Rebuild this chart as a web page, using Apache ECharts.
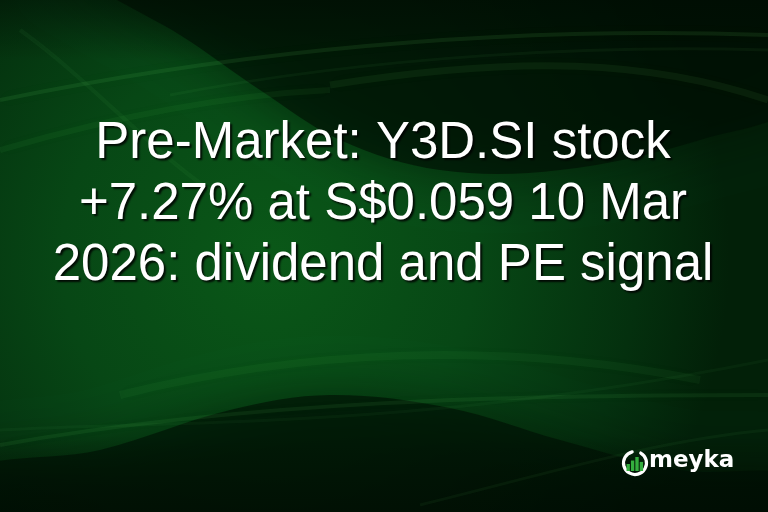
<!DOCTYPE html>
<html><head><meta charset="utf-8">
<script src="https://cdn.jsdelivr.net/npm/echarts@6/dist/echarts.min.js"></script>
<style>html,body{margin:0;padding:0;background:#031a08}#c{width:768px;height:512px}</style>
</head><body><div id="c"></div>
<script>
const titleLines = ["Pre-Market: Y3D.SI stock", "+7.27% at S$0.059 10 Mar", "2026: dividend and PE signal"];
const brandName = "meyka";
const logoBars = [0.5, 0.75, 1.0, 0.65];

const chart = echarts.init(document.getElementById('c'));
const W = 768, H = 512;
const g = [];
// base background
g.push({type:'rect', shape:{x:0,y:0,width:W,height:H}, style:{fill:{type:'radial',x:0.35,y:0.5,r:0.9,colorStops:[
  {offset:0,color:'#0a5818'},{offset:0.45,color:'#074715'},{offset:0.8,color:'#04300e'},{offset:1,color:'#022008'}]}}, z:0});
// dark top lobe
g.push({type:'polygon', shape:{smooth:0.35, points:[[60,-40],[808,-40],[808,95],[700,140],[560,170],[440,170],[340,140],[260,90],[180,35],[100,-10]]},
  style:{fill:'rgba(0,14,4,0.62)', shadowBlur:50, shadowColor:'rgba(0,14,4,0.8)'}, z:1});
// dark bottom lobe
g.push({type:'polygon', shape:{smooth:0.35, points:[[-40,552],[-40,475],[100,450],[230,410],[330,395],[450,408],[560,440],[680,470],[808,480],[808,552]]},
  style:{fill:'rgba(0,14,4,0.62)', shadowBlur:50, shadowColor:'rgba(0,14,4,0.8)'}, z:1});
// top/bottom edge darkening
g.push({type:'rect', shape:{x:0,y:0,width:W,height:H}, style:{fill:{type:'linear',x:0,y:0,x2:0,y2:1,colorStops:[
  {offset:0,color:'rgba(0,10,2,0.45)'},{offset:0.12,color:'rgba(0,10,2,0)'},{offset:0.85,color:'rgba(0,10,2,0)'},{offset:1,color:'rgba(0,10,2,0.5)'}]}}, z:1});
// light streaks
const sw = [
  [[0,100],[220,55],[480,25],[768,35], 0.10, 4],
  [[170,95],[380,55],[600,45],[768,50], 0.05, 3],
  [[330,85],[520,55],[650,60],[768,100], 0.07, 7],
  [[20,30],[90,80],[150,150],[210,190], 0.05, 4],
  [[0,150],[120,115],[230,95],[330,90], 0.06, 6],
  [[0,445],[250,400],[520,395],[768,395], 0.08, 4],
  [[0,430],[180,420],[420,430],[768,360], 0.045, 3],
  [[120,395],[300,350],[500,340],[700,380], 0.05, 8],
  [[420,505],[560,470],[660,440],[768,430], 0.05, 3]
];
sw.forEach(s=>{
  g.push({type:'bezierCurve', shape:{x1:s[0][0],y1:s[0][1],cpx1:s[1][0],cpy1:s[1][1],cpx2:s[2][0],cpy2:s[2][1],x2:s[3][0],y2:s[3][1]},
    style:{stroke:'rgba(110,230,110,'+s[4]+')', lineWidth:s[5], fill:null, shadowBlur:14, shadowColor:'rgba(100,220,100,0.3)'}, z:2});
});
// title
titleLines.forEach((t,i)=>{
  g.push({type:'text', x:383, y:144+i*61, style:{text:t, fill:'#ffffff', font:'51px "Liberation Sans", Arial, sans-serif', align:'center', verticalAlign:'middle',
    textShadowColor:'rgba(0,0,0,0.85)', textShadowOffsetX:2, textShadowOffsetY:2, textShadowBlur:2}, z:10});
});
// logo
const cx=635, cy=463, r=11.5;
g.push({type:'arc', shape:{cx:cx,cy:cy,r:r,startAngle:-Math.PI/3,endAngle:Math.PI*1.5-0.25,clockwise:true}, style:{stroke:'#ffffff',lineWidth:3.2,fill:null,lineCap:'round'}, z:10});
logoBars.forEach((b,i)=>{
  const bw=4, x0=cx-8.5+i*4.4, h=b*14, yb=cy+8;
  g.push({type:'rect', shape:{x:x0,y:yb-h,width:bw-0.6,height:h}, style:{fill:'#34ad3e'}, z:11});
});
g.push({type:'text', x:649, y:461, style:{text:brandName, fill:'#ffffff', font:'bold 23px "DejaVu Sans", sans-serif', verticalAlign:'middle'}, z:10});

chart.setOption({animation:false, graphic:{elements:g}});
</script></body></html>
